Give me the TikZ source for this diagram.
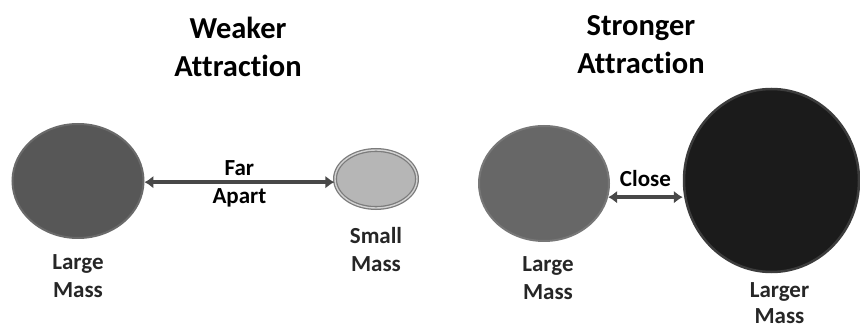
\documentclass[tikz,border=0pt]{standalone}
\usepackage{fontspec}
\setmainfont{Carlito}[Ligatures={NoCommon,NoRare,NoContextual}]
\usetikzlibrary{shapes.geometric,arrows.meta,positioning}
\definecolor{largegray}{HTML}{575757}
\definecolor{largeedge}{HTML}{6A6A6A}
\definecolor{medgray}{HTML}{676767}
\definecolor{mededge}{HTML}{777777}
\definecolor{hugeblack}{HTML}{1B1B1B}
\definecolor{hugeedge}{HTML}{3C3C3C}
\definecolor{smallfill}{HTML}{B6B6B6}
\definecolor{smalledge}{HTML}{7C7C7C}
\definecolor{smallgap}{HTML}{D2D2D2}
\definecolor{pullgray}{HTML}{484848}

\begin{document}
\begin{tikzpicture}[x=1pt,y=-1pt,
mass/.style={ellipse,inner sep=0pt},
tag/.style={font=\bfseries\fontsize{23}{28}\selectfont,align=center,inner sep=0pt,text=black!85},
heading/.style={font=\bfseries\fontsize{30.5}{38.5}\selectfont,align=center,inner sep=0pt},
pull/.style={{Latex[length=9pt,width=13pt]}-{Latex[length=9pt,width=13pt]},line width=3.5pt,draw=pullgray}
]
\useasboundingbox (0,0) rectangle (860,331);
\clip (0,0) rectangle (860,331);
\node[heading] (weak) at (238,47) {Weaker\\Attraction};
\node[heading] (strong) at (641,44.5) {Stronger\\Attraction};
\node[mass,fill=largegray,draw=largeedge,line width=2pt,minimum width=131pt,minimum height=114pt] (largeL) at (78,181) {};
\node[mass,fill=smallfill,draw=smalledge,line width=1.3pt,double=smallgap,double distance=1.4pt,minimum width=82pt,minimum height=58pt] (small) at (376,179) {};
\node[mass,fill=medgray,draw=mededge,line width=2pt,minimum width=130pt,minimum height=115pt] (largeR) at (544,183.5) {};
\node[mass,fill=hugeblack,draw=hugeedge,line width=2.5pt,minimum width=175pt,minimum height=183pt] (huge) at (771.5,180.5) {};
\draw[pull] (largeL.-1) -- node[tag,yshift=-2pt,text=black] {Far\\Apart} (largeL.-1 -| small.west);
\draw[pull] (largeR.-12) -- node[tag,above=9pt,text=black] {Close} (largeR.-12 -| huge.west);
\node[tag,below=15pt of largeL] (largeLtag) {Large\\Mass};
\node[tag,below=19pt of small] (smalltag) {Small\\Mass};
\node[tag,below=14pt of largeR,xshift=4pt] (largeRtag) {Large\\Mass};
\node[tag,font=\bfseries\fontsize{23}{26}\selectfont,below=9pt of huge,xshift=8pt] (hugetag) {Larger\\Mass};
\end{tikzpicture}
\end{document}
